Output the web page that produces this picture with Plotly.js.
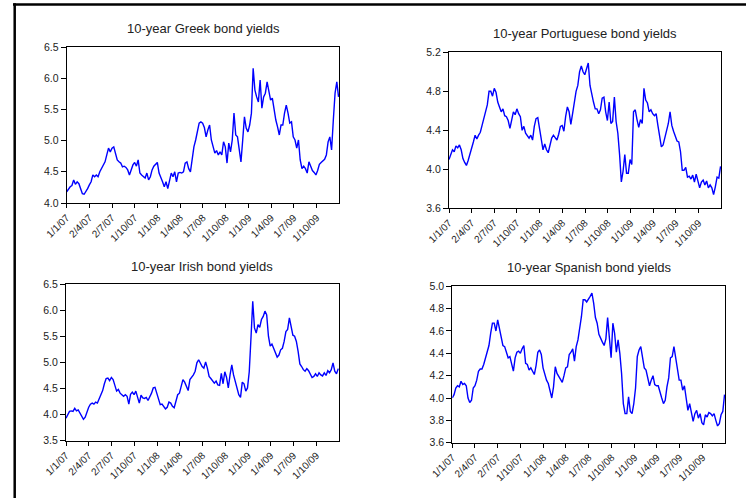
<!DOCTYPE html>
<html><head><meta charset="utf-8">
<script src="https://cdn.plot.ly/plotly-3.0.1.min.js"></script>
<style>html,body{margin:0;padding:0;background:#fff;} #chart{width:746px;height:498px;}</style>
</head><body><div id="chart"></div>
<script>
// Weekly observations starting 2007-01-01 (157 weeks)
const startDate = '2007-01-01';
const tickDates = ['2007-01-01','2007-04-02','2007-07-02','2007-10-01','2008-01-01','2008-04-01','2008-07-01','2008-10-01','2009-01-01','2009-04-01','2009-07-01','2009-10-01'];
const tickLabels = ['1/1/07','2/4/07','2/7/07','1/10/07','1/1/08','1/4/08','1/7/08','1/10/08','1/1/09','1/4/09','1/7/09','1/10/09'];

const greek = [4.18,4.23,4.26,4.28,4.37,4.30,4.34,4.31,4.23,4.15,4.14,4.18,4.23,
4.29,4.34,4.45,4.42,4.45,4.42,4.50,4.55,4.61,4.66,4.77,4.88,4.82,
4.88,4.90,4.80,4.69,4.66,4.64,4.58,4.59,4.57,4.53,4.45,4.55,4.61,
4.65,4.59,4.69,4.48,4.45,4.42,4.40,4.48,4.37,4.42,4.53,4.59,4.62,
4.65,4.48,4.42,4.34,4.26,4.34,4.23,4.37,4.48,4.42,4.50,4.34,4.48,
4.49,4.48,4.50,4.64,4.66,4.55,4.50,4.74,4.90,5.01,5.14,5.28,5.30,
5.28,5.21,5.06,5.17,5.25,5.01,4.90,4.80,4.84,4.77,4.82,4.77,4.98,
4.90,4.64,4.96,4.82,5.01,5.44,5.09,5.06,4.85,4.66,5.01,5.38,5.20,
5.14,5.25,5.44,6.16,5.81,5.70,5.62,5.97,5.52,5.70,5.76,5.94,5.76,
5.65,5.68,5.49,5.33,5.22,5.09,5.25,5.25,5.44,5.57,5.44,5.28,5.30,
5.06,5.01,4.88,5.01,4.69,4.55,4.59,4.55,4.48,4.66,4.58,4.52,4.49,
4.45,4.52,4.62,4.65,4.68,4.70,4.77,4.98,5.06,4.85,5.33,5.76,5.94,5.70];

const portuguese = [4.10,4.15,4.20,4.18,4.24,4.22,4.25,4.20,4.11,4.07,4.04,4.09,4.15,
4.20,4.28,4.35,4.31,4.35,4.38,4.45,4.52,4.57,4.66,4.80,4.80,4.75,
4.83,4.79,4.69,4.64,4.59,4.62,4.55,4.54,4.50,4.42,4.52,4.59,4.56,
4.62,4.57,4.54,4.40,4.44,4.37,4.35,4.32,4.35,4.30,4.44,4.52,4.53,
4.42,4.30,4.20,4.26,4.20,4.17,4.26,4.32,4.35,4.32,4.30,4.36,4.44,
4.45,4.39,4.54,4.64,4.59,4.46,4.57,4.69,4.80,4.86,5.00,5.06,5.00,
4.97,5.04,5.09,4.86,4.76,4.69,4.62,4.62,4.57,4.61,4.73,4.74,4.59,
4.50,4.69,4.47,4.49,4.74,4.49,4.37,4.15,3.87,3.98,4.15,3.96,3.96,
4.10,4.05,4.59,4.61,4.51,4.43,4.51,4.47,4.83,4.71,4.68,4.59,4.61,
4.57,4.55,4.57,4.45,4.35,4.23,4.25,4.33,4.42,4.47,4.59,4.45,4.39,
4.34,4.29,4.28,4.18,3.99,3.99,4.02,3.92,3.93,3.90,3.94,3.87,3.95,
3.89,3.81,3.87,3.89,3.84,3.88,3.81,3.84,3.81,3.74,3.82,3.92,3.91,4.03];

const irish = [3.93,4.01,4.06,4.07,4.06,4.12,4.07,4.09,4.03,3.97,3.91,3.95,4.05,
4.14,4.20,4.22,4.20,4.24,4.22,4.29,4.38,4.46,4.59,4.69,4.70,4.65,
4.71,4.67,4.56,4.45,4.48,4.41,4.38,4.35,4.38,4.35,4.20,4.39,4.43,
4.38,4.45,4.32,4.22,4.37,4.32,4.31,4.33,4.27,4.33,4.41,4.51,4.52,
4.41,4.29,4.19,4.20,4.16,4.11,4.14,4.24,4.22,4.16,4.13,4.29,4.38,
4.41,4.54,4.67,4.62,4.54,4.46,4.67,4.71,4.76,4.83,4.99,5.05,4.99,
4.92,4.89,5.01,4.89,4.73,4.69,4.64,4.60,4.64,4.57,4.56,4.79,4.59,
4.82,4.71,4.51,4.76,4.95,4.76,4.65,4.51,4.38,4.33,4.62,4.59,4.45,
4.51,4.82,5.47,6.17,5.66,5.56,5.72,5.67,5.82,5.88,5.98,5.91,5.50,
5.31,5.35,5.26,5.20,5.10,5.14,5.24,5.27,5.40,5.59,5.63,5.85,5.69,
5.52,5.50,5.40,5.21,4.97,4.92,4.86,4.83,4.88,4.84,4.78,4.71,4.73,
4.78,4.73,4.80,4.76,4.74,4.80,4.75,4.84,4.80,4.86,4.99,4.83,4.78,4.88];

const spanish = [4.00,4.03,4.09,4.11,4.10,4.15,4.12,4.13,4.11,4.00,3.96,3.98,4.09,
4.11,4.16,4.24,4.26,4.26,4.30,4.36,4.41,4.47,4.58,4.67,4.67,4.60,
4.70,4.63,4.53,4.47,4.46,4.41,4.36,4.37,4.30,4.24,4.36,4.41,4.42,
4.40,4.44,4.47,4.31,4.30,4.25,4.27,4.24,4.21,4.29,4.41,4.43,4.39,
4.27,4.20,4.16,4.13,4.06,4.00,4.10,4.28,4.22,4.19,4.16,4.14,4.20,
4.27,4.28,4.39,4.41,4.44,4.33,4.46,4.52,4.61,4.73,4.88,4.88,4.86,
4.88,4.91,4.94,4.85,4.72,4.67,4.57,4.53,4.50,4.47,4.53,4.72,4.49,
4.36,4.67,4.58,4.41,4.52,4.40,4.22,3.95,3.86,3.86,4.01,3.88,3.86,
3.95,4.09,4.37,4.43,4.46,4.34,4.27,4.25,4.19,4.11,4.16,4.20,4.12,
4.11,4.11,4.04,4.00,3.95,3.98,4.10,4.18,4.36,4.37,4.46,4.36,4.30,
4.16,4.16,4.07,4.11,4.01,3.89,3.95,3.86,3.79,3.86,3.89,3.82,3.86,
3.78,3.76,3.85,3.83,3.87,3.86,3.84,3.86,3.80,3.75,3.77,3.85,3.88,4.03];

const titles = ['10-year Greek bond yields','10-year Portuguese bond yields','10-year Irish bond yields','10-year Spanish bond yields'];

function weeklyDates(n){
  const out=[]; const d0=new Date(startDate+'T00:00:00Z');
  for(let i=0;i<n;i++){const d=new Date(d0.getTime()+i*7*86400000);out.push(d.toISOString().slice(0,10));}
  return out;
}
const W=746,H=498;
const px=(a,b)=>[a/W,b/W];
const py=(top,bot)=>[1-bot/H,1-top/H];
const FONT='Arial, "Liberation Sans", sans-serif';

const panels=[
 {data:greek, xd:px(66.7,339.3), yd:py(47,203), yr:[4.0,6.5], dt:0.5, tx:203, ty:28},
 {data:portuguese, xd:px(449,721.3), yd:py(52.3,208.3), yr:[3.6,5.2], dt:0.4, tx:585, ty:33},
 {data:irish, xd:px(66,339), yd:py(284,440.7), yr:[3.5,6.5], dt:0.5, tx:202, ty:266},
 {data:spanish, xd:px(452.3,725.3), yd:py(286.3,442.7), yr:[3.6,5.0], dt:0.2, tx:589, ty:267}
];

const traces=[]; const layout={width:W,height:H,margin:{l:0,r:0,t:0,b:0},paper_bgcolor:'#fff',plot_bgcolor:'#fff',showlegend:false,annotations:[],shapes:[],font:{family:FONT,color:'#222'}};
panels.forEach((p,i)=>{
  const n=i+1; const xa='x'+(n===1?'':n), ya='y'+(n===1?'':n);
  traces.push({x:weeklyDates(p.data.length), y:p.data, type:'scatter', mode:'lines', line:{color:'#0000ff',width:1.4}, xaxis:xa, yaxis:ya, hoverinfo:'skip'});
  layout['xaxis'+(n===1?'':n)]={domain:p.xd, anchor:ya, type:'date', range:['2007-01-01','2009-12-31'], tickmode:'array', tickvals:tickDates, ticktext:tickLabels, tickangle:-45, ticks:'outside', ticklen:4, tickcolor:'#000', showline:true, linecolor:'#000', linewidth:1, mirror:true, showgrid:false, zeroline:false, tickfont:{family:FONT,size:10,color:'#222'}, fixedrange:true};
  layout['yaxis'+(n===1?'':n)]={domain:p.yd, anchor:xa, range:p.yr, dtick:p.dt, tick0:p.yr[0], tickformat:'.1f', ticks:'outside', ticklen:5, tickcolor:'#000', showline:true, linecolor:'#000', linewidth:1, mirror:true, showgrid:false, zeroline:false, tickfont:{family:FONT,size:10.5,color:'#222'}, fixedrange:true};
  layout.annotations.push({text:titles[i], xref:'paper', yref:'paper', x:p.tx/W, y:1-p.ty/H, xanchor:'center', yanchor:'middle', showarrow:false, font:{family:FONT,size:13,color:'#222'}});
});
layout.shapes.push({type:'line',xref:'paper',yref:'paper',x0:13/W,x1:1,y0:1-4.5/H,y1:1-4.5/H,line:{color:'#000',width:2.5}});
layout.shapes.push({type:'line',xref:'paper',yref:'paper',x0:14.7/W,x1:14.7/W,y0:0,y1:1-3.3/H,line:{color:'#000',width:2.5}});
Plotly.newPlot('chart',traces,layout,{displayModeBar:false,staticPlot:true});
</script></body></html>
